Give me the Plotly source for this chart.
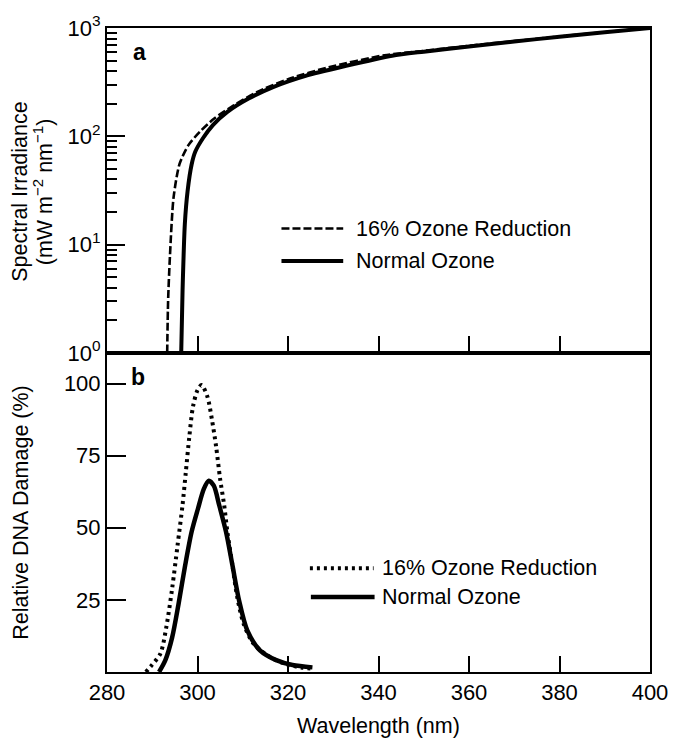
import plotly.graph_objects as go

# ---------------- data ----------------
# Panel a: spectral irradiance (mW m-2 nm-1)
wl_a_normal = [296.4, 296.7, 297.2, 297.8, 298.7, 299.5, 301.2, 303.4, 306.6, 311.3,
               316.7, 323.9, 332.6, 343.0, 350.0, 360.0, 370.0, 380.0, 390.0, 400.0]
irr_a_normal = [1.0, 3.8, 15.5, 31, 55, 72, 96, 127, 168, 223,
                285, 362, 445, 555, 605, 675, 750, 830, 912, 1000]

wl_a_reduced = [293.3, 293.5, 293.9, 294.7, 296.0, 298.0, 300.5, 303.7, 308.1, 313.1,
                320.3, 329.0, 341.3, 350.0, 360.0, 370.0, 380.0, 390.0, 400.0]
irr_a_reduced = [1.0, 3.0, 7.7, 27, 55, 83, 110, 146, 194, 256,
                 340, 434, 560, 615, 685, 758, 835, 915, 1000]

# Panel b: relative DNA damage (%)
wl_b_reduced = [288.6, 289.7, 291.8, 293.1, 294.4, 295.6, 296.7, 297.4, 298.2, 299.0,
                300.0, 300.9, 302.2, 303.2, 304.1, 305.0, 305.9, 306.6, 307.7, 308.8,
                310.2, 312.4, 316.0, 319.6, 323.2, 325.5]
dna_reduced = [0.0, 2.0, 6.4, 15.5, 29, 44, 58, 69, 81.7, 92,
               97.7, 99.5, 95.4, 87.4, 78.3, 66.9, 57.8, 48.6, 37.2, 25.8,
               16.7, 9.8, 5.2, 2.7, 1.5, 1.2]

wl_b_normal = [291.5, 292.9, 294.4, 295.8, 297.3, 298.7, 300.1, 301.4, 302.5, 303.6,
               304.8, 306.3, 307.7, 309.2, 311.0, 313.8, 317.4, 321.0, 325.4]
dna_normal = [0.0, 4.1, 12, 23.5, 37.2, 48.6, 56.6, 63.5, 66.3, 64.6,
              57.8, 48.6, 37.2, 24.7, 14.4, 7.5, 4.1, 2.4, 1.6]

x_ticks = [280, 300, 320, 340, 360, 380, 400]
b_ticks = [25, 50, 75, 100]
a_major = [1, 10, 100, 1000]
a_major_text = ["10<sup>0</sup>", "10<sup>1</sup>", "10<sup>2</sup>", "10<sup>3</sup>"]
a_minor = [m * d for d in (1, 10, 100) for m in range(2, 10)]

legend_labels = ["16% Ozone Reduction", "Normal Ozone"]

# ---------------- layout helpers ----------------
W, H = 680, 744
L, R, T, B = 107, 19, 20, 72
PW, PH = W - L - R, H - T - B
DIV = 349  # pixel y of panel divider
split = (H - B - DIV) / PH


def px(xp):
    return (xp - L) / PW


def py(yp):
    return (H - B - yp) / PH


FONT = "Liberation Sans, Arial, Helvetica, sans-serif"
BLK = "black"
FS_TICK = 22
FS_TXT = 21.5

fig = go.Figure()

# panel a
fig.add_trace(go.Scatter(x=wl_a_reduced, y=irr_a_reduced, mode="lines", xaxis="x2", yaxis="y2",
                         line=dict(color=BLK, width=2.6, dash="8px,3px", shape="spline", smoothing=0.7),
                         showlegend=False))
fig.add_trace(go.Scatter(x=wl_a_normal, y=irr_a_normal, mode="lines", xaxis="x2", yaxis="y2",
                         line=dict(color=BLK, width=4, shape="spline", smoothing=0.7),
                         showlegend=False))
# panel b
fig.add_trace(go.Scatter(x=wl_b_reduced, y=dna_reduced, mode="lines", xaxis="x", yaxis="y",
                         line=dict(color=BLK, width=4, dash="3px,4px", shape="spline", smoothing=0.8),
                         showlegend=False))
fig.add_trace(go.Scatter(x=wl_b_normal, y=dna_normal, mode="lines", xaxis="x", yaxis="y",
                         line=dict(color=BLK, width=4.5, shape="spline", smoothing=0.8),
                         showlegend=False))

axis_common = dict(showline=True, linecolor=BLK, linewidth=2, mirror=True, showgrid=False,
                   zeroline=False, ticks="inside", tickcolor=BLK, tickwidth=1.5,
                   tickfont=dict(family=FONT, size=FS_TICK, color=BLK))

fig.update_layout(
    width=W, height=H,
    margin=dict(l=L, r=R, t=T, b=B),
    paper_bgcolor="white", plot_bgcolor="white",
    font=dict(family=FONT, color=BLK),
    xaxis=dict(axis_common, range=[280, 400], domain=[0, 1], anchor="y",
               tickvals=x_ticks, ticklen=16, ticklabelstandoff=0),
    yaxis=dict(axis_common, range=[0, 100 * (H - B - DIV) / (H - B - 380)], domain=[0, split],
               anchor="x", tickvals=b_ticks, ticklen=19, ticklabelstandoff=0),
    xaxis2=dict(axis_common, range=[280, 400], domain=[0, 1], anchor="y2", matches="x",
                tickvals=x_ticks, ticklen=17, showticklabels=False),
    yaxis2=dict(axis_common, type="log", range=[0, 3], domain=[split, 1], anchor="x2",
                tickvals=a_major, ticktext=a_major_text, ticklen=18, ticklabelstandoff=0,
                minor=dict(tickvals=a_minor, ticks="inside", ticklen=10, tickcolor=BLK, tickwidth=1.5)),
    showlegend=False,
)

shapes = []
annotations = []

# legend panel a
shapes.append(dict(type="line", xref="paper", yref="paper", x0=px(285), x1=px(348), y0=py(223), y1=py(223),
                   line=dict(color=BLK, width=2.6, dash="8px,3px")))
shapes.append(dict(type="line", xref="paper", yref="paper", x0=px(285), x1=px(348), y0=py(256), y1=py(256),
                   line=dict(color=BLK, width=4)))
annotations.append(dict(xref="paper", yref="paper", x=px(359), y=py(223), xanchor="left", yanchor="middle",
                        text=legend_labels[0], showarrow=False, font=dict(size=FS_TXT)))
annotations.append(dict(xref="paper", yref="paper", x=px(359), y=py(256), xanchor="left", yanchor="middle",
                        text=legend_labels[1], showarrow=False, font=dict(size=FS_TXT)))
# legend panel b
shapes.append(dict(type="line", xref="paper", yref="paper", x0=px(314), x1=px(379), y0=py(567), y1=py(567),
                   line=dict(color=BLK, width=4, dash="3px,4px")))
shapes.append(dict(type="line", xref="paper", yref="paper", x0=px(315), x1=px(380), y0=py(596), y1=py(596),
                   line=dict(color=BLK, width=4.5)))
annotations.append(dict(xref="paper", yref="paper", x=px(386), y=py(567), xanchor="left", yanchor="middle",
                        text=legend_labels[0], showarrow=False, font=dict(size=FS_TXT)))
annotations.append(dict(xref="paper", yref="paper", x=px(386), y=py(596), xanchor="left", yanchor="middle",
                        text=legend_labels[1], showarrow=False, font=dict(size=FS_TXT)))

# panel letters
annotations.append(dict(xref="paper", yref="paper", x=px(140), y=py(44), xanchor="center", yanchor="middle",
                        text="<b>a</b>", showarrow=False, font=dict(size=23)))
annotations.append(dict(xref="paper", yref="paper", x=px(139), y=py(373), xanchor="center", yanchor="middle",
                        text="<b>b</b>", showarrow=False, font=dict(size=23)))

# axis titles
annotations.append(dict(xref="paper", yref="paper", x=px(384), y=py(727), xanchor="center", yanchor="middle",
                        text="Wavelength (nm)", showarrow=False, font=dict(size=FS_TXT)))
annotations.append(dict(xref="paper", yref="paper", x=px(18), y=py(186), xanchor="center", yanchor="middle",
                        text="Spectral Irradiance", textangle=-90, showarrow=False, font=dict(size=FS_TXT)))
annotations.append(dict(xref="paper", yref="paper", x=px(42), y=py(186), xanchor="center", yanchor="middle",
                        text="(mW m<sup>\u22122</sup> nm<sup>\u22121</sup>)",
                        textangle=-90, showarrow=False, font=dict(size=FS_TXT)))
annotations.append(dict(xref="paper", yref="paper", x=px(19), y=py(510), xanchor="center", yanchor="middle",
                        text="Relative DNA Damage (%)", textangle=-90, showarrow=False, font=dict(size=FS_TXT)))

fig.update_layout(shapes=shapes, annotations=annotations)

fig.write_html("out.html")
